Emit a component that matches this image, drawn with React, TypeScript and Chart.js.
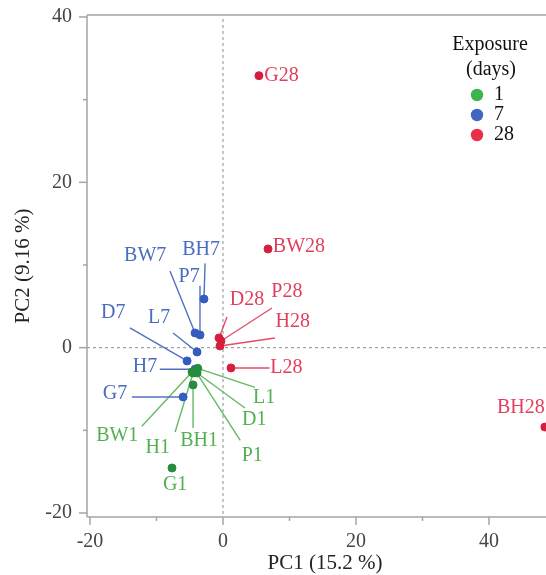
import React, { useEffect, useRef } from 'react';
import { Chart, registerables } from 'chart.js';
Chart.register(...registerables);

// ---- data ----
const legendTitle = ['Exposure', '(days)'];
const exposureDays = ['1', '7', '28'];

const day1Names = ['BW1', 'H1', 'BH1', 'L1', 'D1', 'P1', 'G1'];
const day1PC1 = [-4.66, -4.5, -4.5, -3.8, -3.9, -4.06, -7.67];
const day1PC2 = [-2.94, -3.06, -4.5, -2.5, -3.06, -2.94, -14.55];

const day7Names = ['BH7', 'P7', 'BW7', 'L7', 'D7', 'H7', 'G7'];
const day7PC1 = [-2.86, -3.46, -4.2, -3.9, -5.4, -4.2, -6.0];
const day7PC2 = [5.89, 1.54, 1.78, -0.52, -1.6, -2.6, -5.96];

const day28Names = ['G28', 'BW28', 'D28', 'P28', 'H28', 'L28', 'BH28'];
const day28PC1 = [5.4, 6.77, -0.6, -0.3, -0.45, 1.2, 48.4];
const day28PC2 = [32.9, 11.94, 1.18, 0.81, 0.2, -2.45, -9.6];

// label anchors (data units): text position, alignment, leader-line start
type Lab = { tx: number; ty: number; align: CanvasTextAlign; lx?: number; ly?: number };
const day1Labels: Lab[] = [
  { tx: -15.9, ty: -10.7, align: 'center', lx: -12.2, ly: -9.5 },
  { tx: -9.8, ty: -12.1, align: 'center', lx: -7.2, ly: -10.2 },
  { tx: -3.6, ty: -11.2, align: 'center', lx: -4.5, ly: -9.7 },
  { tx: 6.2, ty: -6.1, align: 'center', lx: 4.8, ly: -4.8 },
  { tx: 4.7, ty: -8.7, align: 'center', lx: 3.3, ly: -7.3 },
  { tx: 4.4, ty: -13.1, align: 'center', lx: 2.6, ly: -11.2 },
  { tx: -7.2, ty: -16.6, align: 'center' },
];
const day7Labels: Lab[] = [
  { tx: -3.3, ty: 11.9, align: 'center', lx: -2.7, ly: 10.2 },
  { tx: -5.1, ty: 8.6, align: 'center', lx: -3.46, ly: 7.5 },
  { tx: -11.7, ty: 11.1, align: 'center', lx: -7.97, ly: 9.28 },
  { tx: -9.6, ty: 3.6, align: 'center', lx: -7.5, ly: 1.78 },
  { tx: -16.5, ty: 4.2, align: 'center', lx: -14.0, ly: 2.4 },
  { tx: -9.9, ty: -2.3, align: 'right', lx: -9.5, ly: -2.6 },
  { tx: -14.4, ty: -5.6, align: 'right', lx: -13.7, ly: -5.96 },
];
const day28Labels: Lab[] = [
  { tx: 6.2, ty: 32.9, align: 'left' },
  { tx: 7.5, ty: 12.18, align: 'left' },
  { tx: 3.6, ty: 5.77, align: 'center', lx: 0.6, ly: 3.7 },
  { tx: 9.6, ty: 6.74, align: 'center', lx: 7.37, ly: 4.8 },
  { tx: 10.5, ty: 3.1, align: 'center', lx: 7.8, ly: 1.17 },
  { tx: 7.1, ty: -2.45, align: 'left', lx: 7.0, ly: -2.45 },
  { tx: 41.2, ty: -7.3, align: 'left' },
];

const xMin = -20.45, xMax = 48.57;
const yMin = -20.48, yMax = 40.24;

// ---- styles ----
const SERIF = '"Liberation Serif", "Times New Roman", serif';
const pointColors = ['rgb(40,140,62)', 'rgb(52,92,192)', 'rgb(212,32,62)'];
const textColors = ['rgb(82,176,82)', 'rgb(72,108,192)', 'rgb(226,62,92)'];
const lineColors = ['rgb(100,186,100)', 'rgb(80,112,192)', 'rgb(228,78,104)'];
const legendColors = ['rgb(60,182,76)', 'rgb(66,102,192)', 'rgb(232,46,72)'];

const names = [day1Names, day7Names, day28Names];
const labels = [day1Labels, day7Labels, day28Labels];
const xs = [day1PC1, day7PC1, day28PC1];
const ys = [day1PC2, day7PC2, day28PC2];

const overlay = {
  id: 'overlay',
  beforeDatasetsDraw(chart: any) {
    const { ctx, chartArea: a, scales } = chart;
    const x = scales.x, y = scales.y;
    const seg = (x1: number, y1: number, x2: number, y2: number) => {
      ctx.beginPath(); ctx.moveTo(x1, y1); ctx.lineTo(x2, y2); ctx.stroke();
    };
    ctx.save();
    // zero reference lines
    ctx.strokeStyle = '#8c8c8c'; ctx.lineWidth = 1; ctx.setLineDash([3, 3]);
    const x0 = x.getPixelForValue(0), y0 = y.getPixelForValue(0);
    seg(x0, a.top + 4, x0, a.bottom);
    seg(a.left, y0, a.right, y0);
    ctx.setLineDash([]);
    // frame
    ctx.strokeStyle = '#a4a4a4'; ctx.lineWidth = 1.5;
    seg(a.left, a.top, a.left, a.bottom);
    seg(a.left, a.bottom, a.right, a.bottom);
    seg(a.left, a.top, a.right, a.top);
    // tick marks
    y.ticks.forEach((t: any) => {
      const p = y.getPixelForValue(t.value);
      const len = t.value % 20 === 0 ? 8 : 4;
      seg(a.left - len, p, a.left, p);
    });
    x.ticks.forEach((t: any) => {
      const p = x.getPixelForValue(t.value);
      const len = t.value % 20 === 0 ? 8 : 4;
      seg(p, a.bottom, p, a.bottom + len);
    });
    // leader lines
    ctx.lineWidth = 1.4;
    labels.forEach((labs, g) => {
      ctx.strokeStyle = lineColors[g];
      labs.forEach((l, i) => {
        if (l.lx === undefined || l.ly === undefined) return;
        seg(x.getPixelForValue(l.lx), y.getPixelForValue(l.ly),
          x.getPixelForValue(xs[g][i]), y.getPixelForValue(ys[g][i]));
      });
    });
    ctx.restore();
  },
  afterDatasetsDraw(chart: any) {
    const { ctx, chartArea: a, scales } = chart;
    const x = scales.x, y = scales.y;
    ctx.save();
    ctx.font = `20px ${SERIF}`;
    ctx.textBaseline = 'middle';
    labels.forEach((labs, g) => {
      ctx.fillStyle = textColors[g];
      labs.forEach((l, i) => {
        ctx.textAlign = l.align;
        ctx.fillText(names[g][i], x.getPixelForValue(l.tx), y.getPixelForValue(l.ty));
      });
    });
    // legend
    ctx.fillStyle = '#111';
    ctx.textAlign = 'center';
    ctx.fillText(legendTitle[0], 490, 45);
    ctx.fillText(legendTitle[1], 491, 70);
    exposureDays.forEach((d, i) => {
      const cy = 95 + i * 20;
      ctx.fillStyle = legendColors[i];
      ctx.beginPath(); ctx.arc(477, cy, 6.2, 0, Math.PI * 2); ctx.fill();
      ctx.fillStyle = '#111';
      ctx.textAlign = 'left';
      ctx.fillText(d, 494, cy);
    });
    // axis titles
    ctx.font = `21px ${SERIF}`;
    ctx.fillStyle = '#222';
    ctx.textAlign = 'center';
    ctx.fillText('PC1 (15.2 %)', 325, 563);
    ctx.save();
    ctx.translate(23, (a.top + a.bottom) / 2);
    ctx.rotate(-Math.PI / 2);
    ctx.fillText('PC2 (9.16 %)', 0, 0);
    ctx.restore();
    ctx.restore();
  },
};

const noPad = (s: any) => {
  s.paddingTop = 0; s.paddingBottom = 0; s.paddingLeft = 0; s.paddingRight = 0;
};

export default function App() {
  const ref = useRef<HTMLCanvasElement>(null);
  useEffect(() => {
    if (!ref.current) return;
    const mk = (g: number) => xs[g].map((v, i) => ({ x: v, y: ys[g][i] }));
    const chart = new Chart(ref.current, {
      type: 'scatter',
      data: {
        datasets: exposureDays.map((d, g) => ({
          label: d,
          data: mk(g),
          backgroundColor: pointColors[g],
          borderColor: pointColors[g],
          borderWidth: 1,
          pointRadius: 4,
          order: g,
        })),
      },
      options: {
        responsive: false,
        animation: false,
        layout: { autoPadding: false, padding: { top: 15, left: 0, right: 0, bottom: 0 } },
        plugins: { legend: { display: false }, tooltip: { enabled: false } },
        scales: {
          x: {
            type: 'linear', min: xMin, max: xMax,
            grid: { display: false }, border: { display: false },
            afterFit: (s: any) => { s.height = 58; noPad(s); },
            ticks: {
              stepSize: 10, includeBounds: false, autoSkip: false, maxRotation: 0,
              padding: 5, color: '#444', font: { family: SERIF, size: 20 },
              callback: (v: any) => (Number(v) % 20 === 0 ? String(v) : ''),
            },
          },
          y: {
            type: 'linear', min: yMin, max: yMax,
            grid: { display: false }, border: { display: false },
            afterFit: (s: any) => { s.width = 87; noPad(s); },
            ticks: {
              stepSize: 10, includeBounds: false, autoSkip: false,
              padding: 7, color: '#444', font: { family: SERIF, size: 20 },
              callback: (v: any) => (Number(v) % 20 === 0 ? String(v) : ''),
            },
          },
        },
      } as any,
      plugins: [overlay],
    });
    return () => chart.destroy();
  }, []);
  return (
    <div style={{ position: 'fixed', left: 0, top: 0, width: 546, height: 575, background: '#fff' }}>
      <canvas ref={ref} width={546} height={575} style={{ width: 546, height: 575, display: 'block' }} />
    </div>
  );
}
